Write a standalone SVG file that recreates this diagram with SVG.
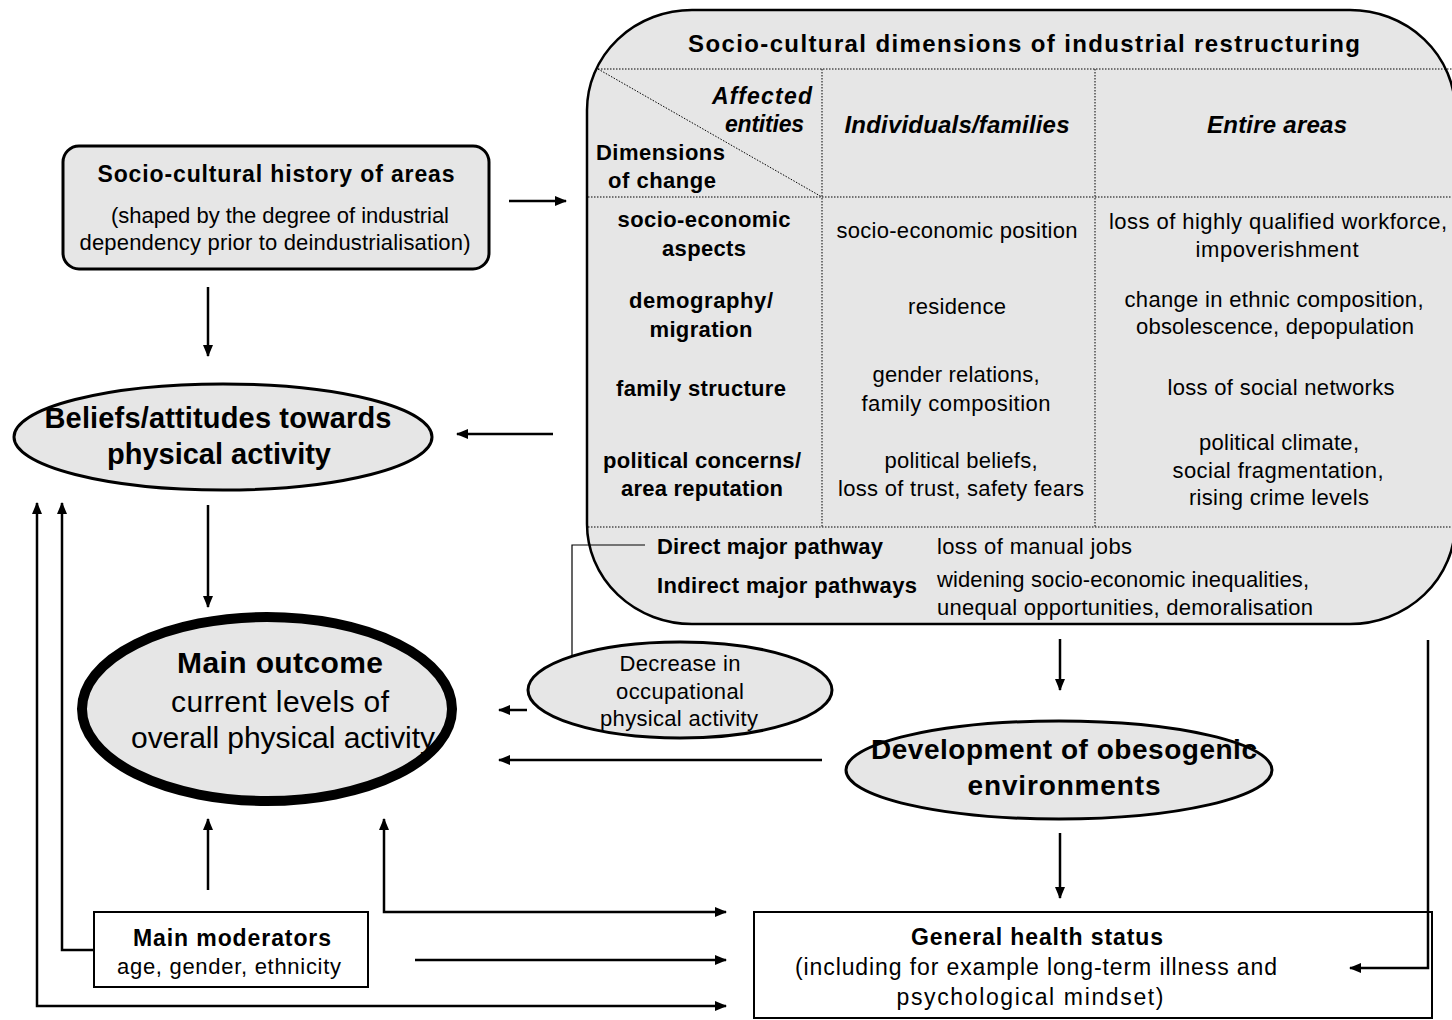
<svg xmlns="http://www.w3.org/2000/svg" width="1452" height="1020" viewBox="0 0 1452 1020">
<defs>
<marker id="ah" viewBox="0 0 12 10" refX="11" refY="5" markerWidth="12" markerHeight="10" markerUnits="userSpaceOnUse" orient="auto">
<path d="M0,0 L12,5 L0,10 Z" fill="#000"/>
</marker>
<marker id="ahs" viewBox="0 0 12 10" refX="11" refY="5" markerWidth="12" markerHeight="10" markerUnits="userSpaceOnUse" orient="auto-start-reverse">
<path d="M0,0 L12,5 L0,10 Z" fill="#000"/>
</marker>
<style>
text{font-family:"Liberation Sans",Arial,sans-serif;fill:#000}
.b{font-weight:bold}
.bi{font-weight:bold;font-style:italic}
.c{text-anchor:middle}
.t22{font-size:22px}
.t23{font-size:23px}
.t29{font-size:29px}
.gray{fill:#e6e6e6;stroke:#000}
.dot{stroke:#000;stroke-width:1;stroke-dasharray:1.5 1.5;fill:none}
.con{stroke:#000;stroke-width:2.5;fill:none}
</style>
</defs>
<rect width="1452" height="1020" fill="#fff"/>

<g id="restructuring">
<rect class="gray" x="587" y="10" width="868" height="614" rx="105" ry="100" stroke-width="2.5"/>
<text class="b c" x="1024" y="52" font-size="24" textLength="672">Socio-cultural dimensions of industrial restructuring</text>
<line class="dot" x1="598" y1="69" x2="1452" y2="69"/>
<line class="dot" x1="598" y1="69" x2="822" y2="197"/>
<line class="dot" x1="822" y1="69" x2="822" y2="527"/>
<line class="dot" x1="1095" y1="69" x2="1095" y2="527"/>
<line class="dot" x1="588" y1="197" x2="1452" y2="197"/>
<line class="dot" x1="588" y1="527" x2="1452" y2="527"/>
<text class="bi t23" x="812" y="104" text-anchor="end" textLength="100">Affected</text>
<text class="bi t23" x="804" y="132" text-anchor="end" textLength="79">entities</text>
<text class="b t22" x="596" y="160" textLength="129">Dimensions</text>
<text class="b t22" x="608" y="188" textLength="108">of change</text>
<text class="bi c" x="957" y="133" font-size="24" textLength="225">Individuals/families</text>
<text class="bi c" x="1277" y="133" font-size="24" textLength="140">Entire areas</text>

<text class="b c t22" x="704" y="227" textLength="173">socio-economic</text>
<text class="b c t22" x="704" y="256" textLength="84">aspects</text>
<text class="b c t22" x="701" y="308" textLength="144">demography/</text>
<text class="b c t22" x="701" y="337" textLength="103">migration</text>
<text class="b c t22" x="701" y="396" textLength="170">family structure</text>
<text class="b c t22" x="702" y="468" textLength="198">political concerns/</text>
<text class="b c t22" x="702" y="496" textLength="162">area reputation</text>

<text class="c t22" x="957" y="238" textLength="241">socio-economic position</text>
<text class="c t22" x="957" y="314" textLength="98">residence</text>
<text class="c t22" x="956" y="382" textLength="167">gender relations,</text>
<text class="c t22" x="956" y="411" textLength="189">family composition</text>
<text class="c t22" x="961" y="468" textLength="153">political beliefs,</text>
<text class="c t22" x="961" y="496" textLength="246">loss of trust, safety fears</text>

<text class="c t22" x="1278" y="229" textLength="338">loss of highly qualified workforce,</text>
<text class="c t22" x="1277" y="257" textLength="163">impoverishment</text>
<text class="c t22" x="1274" y="307" textLength="299">change in ethnic composition,</text>
<text class="c t22" x="1275" y="334" textLength="278">obsolescence, depopulation</text>
<text class="c t22" x="1281" y="395" textLength="227">loss of social networks</text>
<text class="c t22" x="1279" y="450" textLength="160">political climate,</text>
<text class="c t22" x="1278" y="478" textLength="211">social fragmentation,</text>
<text class="c t22" x="1279" y="505" textLength="180">rising crime levels</text>

<text class="b t22" x="657" y="554" textLength="226">Direct major pathway</text>
<text class="t22" x="937" y="554" textLength="195">loss of manual jobs</text>
<text class="b t22" x="657" y="593" textLength="260">Indirect major pathways</text>
<text class="t22" x="937" y="587" textLength="372">widening socio-economic inequalities,</text>
<text class="t22" x="937" y="615" textLength="376">unequal opportunities, demoralisation</text>
</g>

<g id="history">
<rect class="gray" x="63" y="146" width="426" height="123" rx="16" ry="16" stroke-width="3"/>
<text class="b c t23" x="276" y="182" textLength="357">Socio-cultural history of areas</text>
<text class="c t22" x="280" y="223" textLength="338">(shaped by the degree of industrial</text>
<text class="c t22" x="275" y="250" textLength="391">dependency prior to deindustrialisation)</text>
</g>

<g id="beliefs">
<ellipse class="gray" cx="223" cy="437" rx="209" ry="53" stroke-width="3"/>
<text class="b c t29" x="218" y="428" textLength="347">Beliefs/attitudes towards</text>
<text class="b c t29" x="219" y="464" textLength="224">physical activity</text>
</g>

<g id="main-outcome">
<ellipse class="gray" cx="267" cy="709" rx="185" ry="92" stroke-width="10"/>
<text class="b c" x="280" y="673" font-size="30" textLength="206">Main outcome</text>
<text class="c" x="280" y="712" font-size="30" textLength="218">current levels of</text>
<text class="c" x="283" y="748" font-size="30" textLength="304">overall physical activity</text>
</g>

<g id="decrease">
<ellipse class="gray" cx="680" cy="690" rx="152" ry="48" stroke-width="3"/>
<text class="c t22" x="680" y="671" textLength="121">Decrease in</text>
<text class="c t22" x="680" y="699" textLength="128">occupational</text>
<text class="c t22" x="679" y="726" textLength="158">physical activity</text>
</g>

<g id="obesogenic">
<ellipse class="gray" cx="1059" cy="770" rx="213" ry="49" stroke-width="3"/>
<text class="b c" x="1064" y="759" font-size="28" textLength="386">Development of obesogenic</text>
<text class="b c" x="1064" y="795" font-size="28" textLength="193">environments</text>
</g>

<g id="health">
<rect x="754" y="912" width="678" height="106" fill="#fff" stroke="#000" stroke-width="2"/>
<text class="b c t23" x="1037" y="945" textLength="252">General health status</text>
<text class="c t23" x="1036" y="975" textLength="482">(including for example long-term illness and</text>
<text class="c t23" x="1030" y="1005" textLength="267">psychological mindset)</text>
</g>

<g id="moderators">
<rect x="94" y="912" width="274" height="75" fill="#fff" stroke="#000" stroke-width="2"/>
<text class="b c t23" x="232" y="946" textLength="198">Main moderators</text>
<text class="c t22" x="229" y="974" textLength="224">age, gender, ethnicity</text>
</g>

<g id="connectors">
<line class="con" x1="509" y1="201" x2="566" y2="201" marker-end="url(#ah)"/>
<line class="con" x1="208" y1="287" x2="208" y2="356" marker-end="url(#ah)"/>
<line class="con" x1="553" y1="434" x2="457" y2="434" marker-end="url(#ah)"/>
<line class="con" x1="208" y1="505" x2="208" y2="607" marker-end="url(#ah)"/>
<polyline fill="none" stroke="#000" stroke-width="1.2" points="645,545 572,545 572,656"/>
<line class="con" x1="527" y1="710" x2="499" y2="710" marker-end="url(#ah)"/>
<line class="con" x1="1060" y1="639" x2="1060" y2="690" marker-end="url(#ah)"/>
<line class="con" x1="822" y1="760" x2="499" y2="760" marker-end="url(#ah)"/>
<line class="con" x1="1060" y1="833" x2="1060" y2="898" marker-end="url(#ah)"/>
<polyline class="con" points="1428,640 1428,968 1350,968" marker-end="url(#ah)"/>
<line class="con" x1="208" y1="890" x2="208" y2="819" marker-end="url(#ah)"/>
<polyline class="con" points="384,819 384,912 726,912" marker-start="url(#ahs)" marker-end="url(#ah)"/>
<line class="con" x1="415" y1="960" x2="726" y2="960" marker-end="url(#ah)"/>
<polyline class="con" points="94,950 62,950 62,503" marker-end="url(#ah)"/>
<polyline class="con" points="37,503 37,1006 726,1006" marker-start="url(#ahs)" marker-end="url(#ah)"/>
</g>
</svg>
